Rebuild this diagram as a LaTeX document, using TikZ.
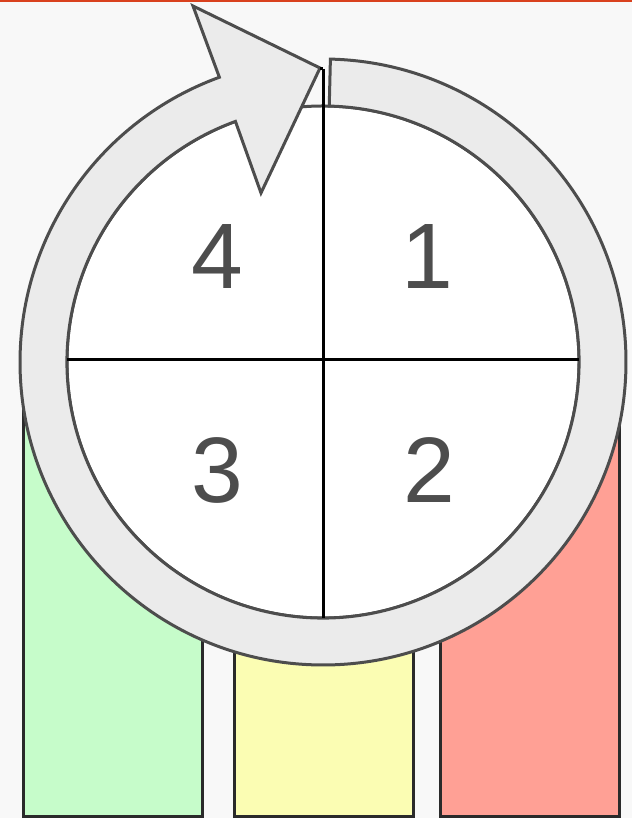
\documentclass[tikz,border=0pt]{standalone}
\usepackage{fontspec}
\setmainfont{Liberation Sans}
\usetikzlibrary{calc}
\definecolor{bg}{HTML}{F8F8F8}
\definecolor{topline}{HTML}{D9411E}
\definecolor{ringfill}{HTML}{EBEBEB}
\definecolor{edge}{HTML}{4D4D4D}
\definecolor{bardark}{HTML}{2A2A2A}
\definecolor{gbar}{HTML}{C6FCCA}
\definecolor{ybar}{HTML}{FBFDB3}
\definecolor{rbar}{HTML}{FFA095}
\tikzset{
  barbox/.style={draw=bardark, line width=3pt},
  digit/.style={font=\fontsize{93}{93}\selectfont, text=edge, inner sep=0pt},
}
\begin{document}
\begin{tikzpicture}[x=1pt,y=1pt]
\useasboundingbox (0,0) rectangle (632,818);
\fill[bg] (0,0) rectangle (632,818);
\fill[topline] (0,816) rectangle (632,818);
% bars
\filldraw[barbox, fill=gbar] (23.5,1.5) rectangle (202.5,450);
\filldraw[barbox, fill=ybar] (234.5,1.5) rectangle (413.5,450);
\filldraw[barbox, fill=rbar] (440.5,1.5) rectangle (619.5,450);
% circle
\coordinate (C) at (323,456);
\filldraw[fill=white, draw=edge, line width=3pt] (C) circle[radius=256];
% ring arrow
\filldraw[fill=ringfill, draw=edge, line width=3pt, line join=miter]
  ($(C)+(88.6:303)$) arc[start angle=88.6, end angle=-250, radius=303]
  -- (193,812) -- (320,750) -- (261,625)
  -- ($(C)+(110:256)$) arc[start angle=110, end angle=448.6, radius=256] -- cycle;
% cross
\coordinate (vt) at (323,749);
\coordinate (vb) at (323,200);
\coordinate (hl) at (67,458);
\coordinate (hr) at (579,458);
\draw[black, line width=3pt] (vt) -- (vb);
\draw[black, line width=3pt] (hl) -- (hr);
\draw[black, line width=3pt] (320,749) -- (vt);
% digits
\node[digit] (d4) at (217.5,561.5) {4};
\node[digit] (d1) at (427.5,561.5) {1};
\node[digit] (d3) at (217.5,348) {3};
\node[digit] (d2) at (429,348) {2};
\end{tikzpicture}
\end{document}
